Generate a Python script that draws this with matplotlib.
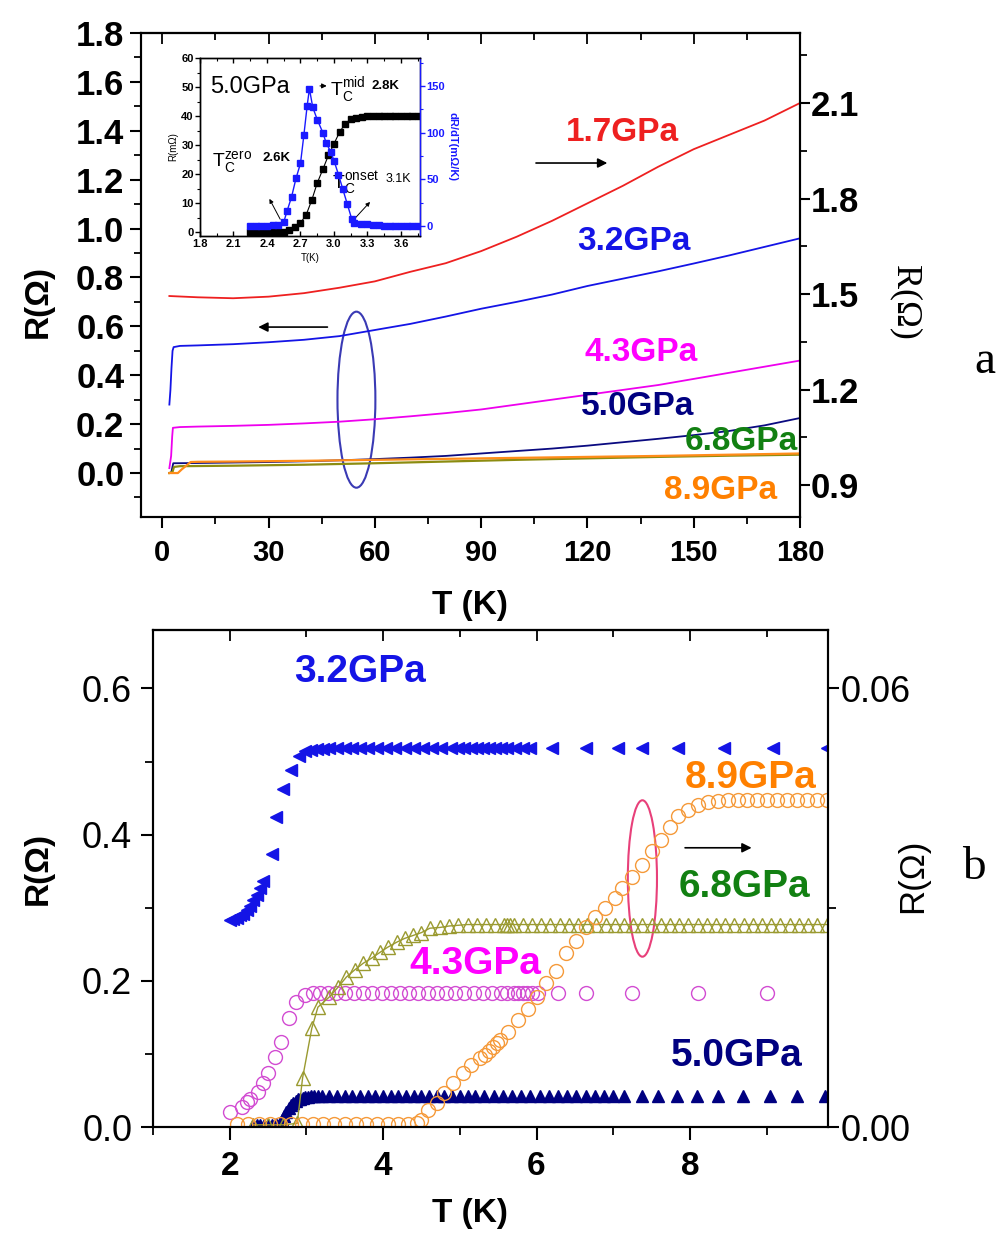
import warnings
import matplotlib
matplotlib.use('Agg')
import matplotlib.pyplot as plt
from matplotlib.patches import Ellipse
from matplotlib.ticker import MultipleLocator

warnings.filterwarnings('ignore')

SANS = ['Liberation Sans', 'DejaVu Sans']
NARROW = ['Liberation Sans Narrow', 'Liberation Sans', 'DejaVu Sans']
SERIF = ['Liberation Serif', 'DejaVu Serif']

# ---------------- panel a : R(T) up to 180 K ----------------
T17 = [2, 10, 20, 30, 40, 50, 60, 70, 80, 90, 100, 110, 120, 130, 140, 150, 160, 170, 180]
R17 = [1.494, 1.490, 1.487, 1.492, 1.503, 1.520, 1.540, 1.570, 1.597, 1.635, 1.680,
       1.730, 1.785, 1.840, 1.900, 1.955, 2.000, 2.045, 2.100]

T32a = [2.0, 2.3, 2.6, 2.9, 3.2, 5, 10, 20, 30, 40, 50, 60, 70, 80, 90, 100, 110, 120,
        130, 140, 150, 160, 170, 180]
R32a = [0.28, 0.34, 0.43, 0.50, 0.515, 0.520, 0.522, 0.527, 0.535, 0.545, 0.560, 0.585,
        0.610, 0.640, 0.672, 0.700, 0.730, 0.765, 0.795, 0.825, 0.857, 0.890, 0.925, 0.960]

T43a = [2.0, 2.5, 2.8, 3.0, 5, 10, 20, 30, 40, 50, 60, 70, 80, 90, 100, 110, 120, 130,
        140, 150, 160, 170, 180]
R43a = [0.02, 0.07, 0.15, 0.185, 0.188, 0.190, 0.193, 0.197, 0.203, 0.210, 0.220, 0.232,
        0.245, 0.260, 0.280, 0.300, 0.320, 0.340, 0.360, 0.385, 0.410, 0.435, 0.460]

T50a = [2.0, 2.5, 2.8, 3.1, 10, 20, 30, 40, 50, 60, 70, 80, 90, 100, 110, 120, 130, 140,
        150, 160, 170, 180]
R50a = [0.0, 0.0, 0.02, 0.04, 0.041, 0.043, 0.045, 0.048, 0.052, 0.057, 0.063, 0.070,
        0.080, 0.090, 0.100, 0.112, 0.126, 0.140, 0.155, 0.172, 0.195, 0.225]

T68a = [2, 2.9, 3.3, 5, 20, 40, 60, 80, 100, 120, 140, 160, 180]
R68a = [0.0, 0.005, 0.025, 0.028, 0.030, 0.034, 0.040, 0.047, 0.054, 0.060, 0.066, 0.071, 0.075]

T89a = [2, 4.4, 5.5, 8, 10, 20, 40, 60, 80, 100, 120, 140, 160, 180]
R89a = [0.0, 0.0, 0.015, 0.045, 0.046, 0.047, 0.050, 0.054, 0.058, 0.062, 0.066, 0.070,
        0.075, 0.080]

# inset: 5.0 GPa transition
Tin = [2.25, 2.3, 2.35, 2.4, 2.45, 2.5, 2.55, 2.6, 2.65, 2.7, 2.75, 2.8, 2.85, 2.9, 2.95,
       3.0, 3.05, 3.1, 3.15, 3.2, 3.25, 3.3, 3.35, 3.4, 3.45, 3.5, 3.55, 3.6, 3.65, 3.7, 3.75]
Rin = [0, 0, 0, 0, 0, 0, 0.3, 0.8, 1.8, 3.3, 6.0, 11.0, 17.0, 21.7, 26.5, 30.5, 34.5, 37.4,
       38.9, 39.5, 39.8, 40, 40, 40, 40, 40, 40, 40, 40, 40, 40]
Tdr = [2.25, 2.3, 2.35, 2.4, 2.45, 2.5, 2.55, 2.58, 2.62, 2.66, 2.7, 2.73, 2.76, 2.78,
       2.81, 2.85, 2.9, 2.93, 2.97, 3.0, 3.04, 3.08, 3.12, 3.16, 3.18, 3.24, 3.3, 3.35, 3.4,
       3.45, 3.5, 3.55, 3.6, 3.65, 3.7, 3.75]
dRdT = [0, 0, 0, 0, 0.5, 1, 4, 16, 31, 51, 67, 97, 129, 147, 127, 114, 100, 89, 79.5, 70,
        55, 39, 23, 7, 3.2, 2.5, 1.5, 1, 0.5, 0.3, 0, 0, 0, 0, 0, 0]

# ---------------- panel b : low temperature ----------------
T32 = [2.0, 2.04, 2.09, 2.13, 2.17, 2.22, 2.26, 2.31, 2.35, 2.39, 2.43, 2.55, 2.61, 2.70,
       2.80, 2.90, 2.98, 3.06, 3.14, 3.22, 3.30, 3.40, 3.50, 3.60, 3.70, 3.80, 3.92, 4.04,
       4.16, 4.28, 4.40, 4.52, 4.64, 4.76, 4.88, 4.98, 5.06, 5.14, 5.22, 5.30, 5.38, 5.46,
       5.54, 5.62, 5.72, 5.82, 5.92, 6.2, 6.65, 7.06, 7.37, 7.85, 8.45, 9.08, 9.78]
R32 = [0.283, 0.284, 0.286, 0.290, 0.292, 0.297, 0.303, 0.310, 0.318, 0.327, 0.337, 0.374,
       0.424, 0.463, 0.488, 0.508, 0.514, 0.516, 0.517, 0.517, 0.518, 0.518, 0.518, 0.518,
       0.518, 0.518, 0.518, 0.518, 0.518, 0.518, 0.518, 0.518, 0.518, 0.518, 0.518, 0.518,
       0.518, 0.518, 0.518, 0.518, 0.518, 0.518, 0.518, 0.518, 0.518, 0.518, 0.518, 0.518,
       0.518, 0.518, 0.518, 0.518, 0.518, 0.518, 0.518]

T43 = [2.0, 2.16, 2.22, 2.26, 2.37, 2.43, 2.50, 2.59, 2.67, 2.77, 2.87, 2.98, 3.08, 3.18,
       3.28, 3.38, 3.50, 3.62, 3.74, 3.86, 3.98, 4.10, 4.22, 4.34, 4.46, 4.58, 4.70, 4.82,
       4.94, 5.06, 5.18, 5.30, 5.42, 5.54, 5.62, 5.70, 5.76, 5.82, 5.88, 5.94, 6.02, 6.28,
       6.65, 7.25, 8.10, 9.00]
R43 = [0.020, 0.027, 0.034, 0.038, 0.048, 0.060, 0.074, 0.096, 0.116, 0.149, 0.171, 0.180,
       0.183, 0.184, 0.184, 0.184, 0.184, 0.184, 0.184, 0.184, 0.184, 0.184, 0.184, 0.184,
       0.184, 0.184, 0.184, 0.184, 0.184, 0.184, 0.184, 0.184, 0.184, 0.184, 0.184, 0.184,
       0.184, 0.184, 0.184, 0.184, 0.184, 0.184, 0.184, 0.184, 0.184, 0.184]

T50 = [2.3, 2.35, 2.4, 2.45, 2.5, 2.55, 2.6, 2.65, 2.68, 2.71, 2.74, 2.77, 2.8, 2.83, 2.86,
       2.89, 2.92, 2.95, 2.98, 3.02, 3.06, 3.1, 3.15, 3.2, 3.3, 3.4, 3.5, 3.6, 3.7, 3.8, 3.9,
       4.0, 4.1, 4.2, 4.3, 4.4, 4.5, 4.6, 4.7, 4.8, 4.9, 5.0, 5.1, 5.2, 5.32, 5.44, 5.56,
       5.68, 5.80, 5.92, 6.04, 6.16, 6.28, 6.40, 6.52, 6.64, 6.76, 6.88, 7.00, 7.14, 7.38,
       7.58, 7.83, 8.09, 8.36, 8.69, 9.04, 9.40, 9.76]
R50 = [0.003, 0.003, 0.003, 0.003, 0.003, 0.003, 0.004, 0.006, 0.010, 0.015, 0.021, 0.026,
       0.030, 0.033, 0.036, 0.038, 0.039, 0.040, 0.041, 0.041, 0.042, 0.042, 0.042, 0.042,
       0.042, 0.042, 0.042, 0.042, 0.042, 0.042, 0.042, 0.042, 0.042, 0.042, 0.042, 0.042,
       0.042, 0.042, 0.042, 0.042, 0.042, 0.042, 0.042, 0.042, 0.042, 0.042, 0.042, 0.042,
       0.042, 0.042, 0.042, 0.042, 0.042, 0.042, 0.042, 0.042, 0.042, 0.042, 0.042, 0.042,
       0.042, 0.042, 0.042, 0.042, 0.042, 0.042, 0.042, 0.042, 0.042]

# 6.8 and 8.9 GPa are read on the right axis
T68 = [2.3, 2.5, 2.7, 2.88, 2.95, 3.07, 3.15, 3.30, 3.41, 3.52, 3.63, 3.74, 3.85, 3.96,
       4.06, 4.18, 4.28, 4.39, 4.50, 4.61, 4.74, 4.86, 4.98, 5.10, 5.22, 5.34, 5.46, 5.58,
       5.62, 5.66, 5.70, 5.82, 5.94, 6.06, 6.18, 6.30, 6.42, 6.54, 6.66, 6.78, 6.90, 7.02,
       7.14, 7.26, 7.38, 7.50, 7.62, 7.74, 7.86, 7.98, 8.10, 8.22, 8.34, 8.46, 8.58, 8.70,
       8.82, 8.94, 9.06, 9.18, 9.30, 9.42, 9.54, 9.66, 9.78]
R68 = [0.0003, 0.0003, 0.0003, 0.0005, 0.0067, 0.0135, 0.0164, 0.0178, 0.0191, 0.0205,
       0.0215, 0.0224, 0.0231, 0.0239, 0.0246, 0.0253, 0.0258, 0.0262, 0.0266, 0.0272,
       0.0273, 0.0275, 0.0276, 0.0277, 0.0277, 0.0277, 0.0277, 0.0277, 0.0277, 0.0277,
       0.0277, 0.0277, 0.0277, 0.0277, 0.0277, 0.0277, 0.0277, 0.0277, 0.0277, 0.0277,
       0.0277, 0.0277, 0.0277, 0.0277, 0.0277, 0.0277, 0.0277, 0.0277, 0.0277, 0.0277,
       0.0277, 0.0277, 0.0277, 0.0277, 0.0277, 0.0277, 0.0277, 0.0277, 0.0277, 0.0277,
       0.0277, 0.0277, 0.0277, 0.0277, 0.0277]

T89 = [2.10, 2.24, 2.38, 2.52, 2.66, 2.80, 2.94, 3.08, 3.22, 3.36, 3.50, 3.64, 3.78, 3.92,
       4.06, 4.20, 4.32, 4.44, 4.50, 4.58, 4.70, 4.80, 4.91, 5.04, 5.15, 5.26, 5.33, 5.38,
       5.43, 5.48, 5.52, 5.63, 5.76, 5.89, 6.00, 6.12, 6.25, 6.38, 6.51, 6.64, 6.76, 6.89,
       7.02, 7.12, 7.25, 7.37, 7.50, 7.62, 7.74, 7.85, 7.97, 8.10, 8.23, 8.36, 8.49, 8.62,
       8.75, 8.88, 9.01, 9.14, 9.27, 9.40, 9.53, 9.66, 9.79]
R89 = [0.0004, 0.0004, 0.0004, 0.0004, 0.0004, 0.0004, 0.0004, 0.0004, 0.0004, 0.0004,
       0.0004, 0.0004, 0.0004, 0.0004, 0.0004, 0.0004, 0.0004, 0.0005, 0.0010, 0.0023,
       0.0033, 0.0046, 0.0060, 0.0074, 0.0085, 0.0094, 0.0098, 0.0104, 0.0110, 0.0115,
       0.0119, 0.0130, 0.0146, 0.0162, 0.0178, 0.0197, 0.0214, 0.0238, 0.0255, 0.0273,
       0.0287, 0.0300, 0.0313, 0.0327, 0.0342, 0.0359, 0.0377, 0.0393, 0.0410, 0.0425,
       0.0434, 0.0441, 0.0444, 0.0446, 0.0447, 0.0447, 0.0447, 0.0447, 0.0447, 0.0447,
       0.0447, 0.0447, 0.0447, 0.0447, 0.0447]

# tick labels
a_yticks = [0.0, 0.2, 0.4, 0.6, 0.8, 1.0, 1.2, 1.4, 1.6, 1.8]
a_ylabels = ['0.0', '0.2', '0.4', '0.6', '0.8', '1.0', '1.2', '1.4', '1.6', '1.8']
a_rticks = [0.9, 1.2, 1.5, 1.8, 2.1]
a_rlabels = ['0.9', '1.2', '1.5', '1.8', '2.1']
a_xticks = [0, 30, 60, 90, 120, 150, 180]
a_xlabels = ['0', '30', '60', '90', '120', '150', '180']
in_xticks = [1.8, 2.1, 2.4, 2.7, 3.0, 3.3, 3.6]
in_xlabels = ['1.8', '2.1', '2.4', '2.7', '3.0', '3.3', '3.6']
in_yticks = [0, 10, 20, 30, 40, 50, 60]
in_rticks = [0, 50, 100, 150]
b_yticks = [0.0, 0.2, 0.4, 0.6]
b_ylabels = ['0.0', '0.2', '0.4', '0.6']
b_rticks = [0.0, 0.06]
b_rlabels = ['0.00', '0.06']
b_xticks = [2, 4, 6, 8]
b_xlabels = ['2', '4', '6', '8']

RED = '#ee2020'
BLUE = '#1414e6'
MAG = '#ee00ee'
NAVY = '#0a0a80'
OLIVE = '#8c8c10'
ORANGE = '#ff8c1a'


def style_spines(ax, lw=1.5):
    for s in ax.spines.values():
        s.set_linewidth(lw)


fig = plt.figure(figsize=(9.98, 12.34), dpi=100)

# ================= panel a =================
ax1 = fig.add_axes([0.1413, 0.5810, 0.6603, 0.3923])
ax1r = ax1.twinx()

ax1.plot(T32a, R32a, color=BLUE, lw=1.3)
ax1.plot(T43a, R43a, color=MAG, lw=1.3)
ax1.plot(T50a, R50a, color=NAVY, lw=1.3)
ax1.plot(T68a, R68a, color=OLIVE, lw=1.6)
ax1.plot(T89a, R89a, color=ORANGE, lw=1.6)
ax1r.plot(T17, R17, color=RED, lw=1.3)

ax1.set_xlim(-6, 180)
ax1.set_ylim(-0.18, 1.8)
ax1r.set_ylim(0.80, 2.32)

ax1.set_yticks(a_yticks, a_ylabels, fontsize=25, fontweight='bold', family=SANS)
ax1.yaxis.set_minor_locator(MultipleLocator(0.1))
ax1.set_xticks(a_xticks, a_xlabels, fontsize=21, fontweight='bold', family=NARROW)
ax1.xaxis.set_minor_locator(MultipleLocator(15))
ax1.tick_params(which='major', direction='out', length=8, width=1.5, pad=4)
ax1.tick_params(which='minor', direction='out', length=5, width=1.3)
ax1.tick_params(axis='x', which='major', pad=8)
ax1r.set_yticks(a_rticks, a_rlabels, fontsize=25, fontweight='bold', family=SANS)
ax1r.yaxis.set_minor_locator(MultipleLocator(0.15))
ax1r.tick_params(which='major', direction='out', length=7, width=1.5, pad=1)
ax1r.tick_params(which='minor', direction='out', length=5, width=1.3)
sec1 = ax1.secondary_xaxis('top')
sec1.set_xticks(a_xticks)
sec1.xaxis.set_minor_locator(MultipleLocator(15))
sec1.tick_params(which='both', direction='in', labeltop=False, width=1.3)
sec1.tick_params(which='major', length=8)
sec1.tick_params(which='minor', length=5)
for a in (ax1, ax1r, sec1):
    style_spines(a)

ax1.add_patch(Ellipse((54.8, 0.30), 10.7, 0.72, fill=False, ec='#3a3ab4', lw=1.5))
ax1.annotate('', xy=(26.3, 0.597), xytext=(47.4, 0.597),
             arrowprops=dict(arrowstyle='-|>', color='black', lw=1.2, mutation_scale=14))
ax1.annotate('', xy=(126.4, 1.268), xytext=(104.7, 1.268),
             arrowprops=dict(arrowstyle='-|>', color='black', lw=1.2, mutation_scale=14))

lab_kw = dict(fontsize=24, fontweight='bold', family=SANS, ha='center', va='center')
ax1r.text(129.8, 1.391, '1.7GPa', color=RED, transform=ax1.transData, **lab_kw)
ax1r.text(133.2, 0.945, '3.2GPa', color=BLUE, transform=ax1.transData, **lab_kw)
ax1r.text(135.2, 0.491, '4.3GPa', color='#ff00ff', transform=ax1.transData, **lab_kw)
ax1r.text(134.3, 0.274, '5.0GPa', color='#000080', transform=ax1.transData, **lab_kw)
ax1r.text(163.4, 0.127, '6.8GPa', color='#128012', transform=ax1.transData, **lab_kw)
ax1r.text(157.7, -0.070, '8.9GPa', color='#ff8000', transform=ax1.transData, **lab_kw)

# ---------------- inset ----------------
axi = fig.add_axes([0.2004, 0.8088, 0.2204, 0.1442])
axir = axi.twinx()
axi.plot(Tin, Rin, color='black', marker='s', ms=4, lw=0.8)
axir.plot(Tdr, dRdT, color='#1a1aff', marker='s', ms=4, lw=1.0)
axi.set_xlim(1.8, 3.77)
axi.set_ylim(-1.2, 60)
axir.set_ylim(-10.8, 180)
axi.set_xticks(in_xticks, in_xlabels, fontsize=8, fontweight='bold', family=NARROW)
axi.xaxis.set_minor_locator(MultipleLocator(0.15))
axi.set_yticks(in_yticks, [str(v) for v in in_yticks], fontsize=8, fontweight='bold',
               family=NARROW)
axi.yaxis.set_minor_locator(MultipleLocator(5))
axi.tick_params(axis='x', which='both', direction='in', top=True, pad=2)
axi.tick_params(axis='y', which='both', direction='out', pad=1)
axi.tick_params(which='major', length=3.5, width=1)
axi.tick_params(which='minor', length=2, width=0.8)
axir.set_yticks(in_rticks, [str(v) for v in in_rticks], fontsize=8, fontweight='bold',
                family=NARROW, color='#1a1aff')
axir.yaxis.set_minor_locator(MultipleLocator(25))
axir.tick_params(which='both', direction='out', colors='#1a1aff', pad=1)
axir.tick_params(which='major', length=3.5, width=1)
axir.tick_params(which='minor', length=2, width=0.8)
style_spines(axi, 1.0)
style_spines(axir, 1.0)
axir.spines['right'].set_color('#1a1aff')
axi.set_xlabel('T(K)', fontsize=7, family=SANS, labelpad=3)
axi.set_ylabel('R(m\u03a9)', fontsize=7, family=SANS, labelpad=2)
axir.set_ylabel('dR/dT(m\u03a9/K)', fontsize=8, fontweight='bold', family=SANS,
                color='#1a1aff', rotation=270, labelpad=9)

axi.text(1.89, 50, '5.0GPa', fontsize=17, family=SANS, ha='left', va='center')
axi.text(2.965, 48.5, r'T$_\mathregular{C}^\mathregular{mid}$', fontsize=14, family=SANS,
         ha='left', va='center')
axi.text(3.34, 50.5, '2.8K', fontsize=9.5, fontweight='bold', family=NARROW, ha='left',
         va='center')
axi.annotate('', xy=(2.96, 50.4), xytext=(2.85, 50.4),
             arrowprops=dict(arrowstyle='-|>', color='black', lw=0.8, mutation_scale=7))
axi.text(1.91, 24, r'T$_\mathregular{C}^\mathregular{zero}$', fontsize=14, family=SANS,
         ha='left', va='center')
axi.text(2.36, 25.5, '2.6K', fontsize=9.5, fontweight='bold', family=NARROW, ha='left',
         va='center')
axi.text(2.98, 17, r'T$_\mathregular{C}^\mathregular{onset}$', fontsize=14, family=SANS,
         ha='left', va='center')
axi.text(3.465, 18.5, '3.1K', fontsize=9, family=NARROW, ha='left', va='center')
axi.annotate('', xy=(2.41, 12.4), xytext=(2.53, 3.7),
             arrowprops=dict(arrowstyle='-|>', color='black', lw=0.7, mutation_scale=6))
axi.annotate('', xy=(3.34, 11.2), xytext=(3.16, 3.7),
             arrowprops=dict(arrowstyle='-|>', color='black', lw=0.7, mutation_scale=6))

# ================= panel b =================
ax3 = fig.add_axes([0.1533, 0.0867, 0.6764, 0.4028])
ax3r = ax3.twinx()

ax3.plot(T32, R32, ls='none', marker='<', ms=9, color=BLUE, mec=BLUE)
ax3.plot(T43, R43, ls='none', marker='o', ms=10, mfc='none', mec='#d24cd2', mew=1.0)
ax3.plot(T50, R50, ls='none', marker='^', ms=9, color='#000080', mec='#000080')
ax3r.plot(T68, R68, color='#9a9a30', lw=1.0, marker='^', ms=10, mfc='none',
          mec='#9a9a30', mew=1.0)
ax3r.plot(T89, R89, ls='none', marker='o', ms=10, mfc='none', mec='#f59a3a', mew=1.0)

ax3.set_xlim(1.0, 9.8)
ax3.set_ylim(0, 0.68)
ax3r.set_ylim(0, 0.068)
ax3.set_yticks(b_yticks, b_ylabels, fontsize=26, family=SANS)
ax3.yaxis.set_minor_locator(MultipleLocator(0.1))
ax3.set_xticks(b_xticks, b_xlabels, fontsize=24, fontweight='bold', family=NARROW)
ax3.xaxis.set_minor_locator(MultipleLocator(1))
ax3.tick_params(which='major', direction='out', length=9, width=1.5, pad=6)
ax3.tick_params(which='minor', direction='out', length=6, width=1.3)
ax3.tick_params(axis='x', which='major', pad=8)
ax3r.set_yticks(b_rticks, b_rlabels, fontsize=26, family=SANS)
ax3r.yaxis.set_minor_locator(MultipleLocator(0.03))
ax3r.tick_params(which='major', direction='out', length=8, width=1.5, pad=1)
ax3r.tick_params(which='minor', direction='out', length=6, width=1.3)
sec3 = ax3.secondary_xaxis('top')
sec3.set_xticks(b_xticks)
sec3.xaxis.set_minor_locator(MultipleLocator(1))
sec3.tick_params(which='both', direction='in', labeltop=False, width=1.3)
sec3.tick_params(which='major', length=8)
sec3.tick_params(which='minor', length=5)
for a in (ax3, ax3r, sec3):
    style_spines(a)

ax3r.add_patch(Ellipse((7.38, 0.0340), 0.38, 0.0214, fill=False, ec='#e8407a', lw=1.5))
ax3r.annotate('', xy=(8.84, 0.0382), xytext=(7.90, 0.0382),
              arrowprops=dict(arrowstyle='-|>', color='black', lw=1.2, mutation_scale=14))

lab_kw2 = dict(fontsize=28, fontweight='bold', family=SANS, ha='center', va='center')
ax3r.text(3.70, 0.622, '3.2GPa', color=BLUE, transform=ax3.transData, **lab_kw2)
ax3r.text(8.79, 0.478, '8.9GPa', color='#ff8000', transform=ax3.transData, **lab_kw2)
ax3r.text(8.71, 0.328, '6.8GPa', color='#128012', transform=ax3.transData, **lab_kw2)
ax3r.text(5.20, 0.223, '4.3GPa', color='#ff00ff', transform=ax3.transData, **lab_kw2)
ax3r.text(8.61, 0.097, '5.0GPa', color='#000080', transform=ax3.transData, **lab_kw2)

# ---------------- axis titles and panel letters ----------------
fig.text(0.471, 0.5097, 'T (K)', fontsize=24, fontweight='bold', family=SANS,
         ha='center', va='center')
fig.text(0.038, 0.756, 'R(\u03a9)', fontsize=24, fontweight='bold', family=SANS,
         rotation=90, ha='center', va='center')
fig.text(0.907, 0.755, 'R(\u03a9)', fontsize=26, family=SERIF, rotation=270,
         ha='center', va='center')
fig.text(0.987, 0.707, 'a', fontsize=34, family=SERIF, ha='center', va='center')

fig.text(0.471, 0.017, 'T (K)', fontsize=24, fontweight='bold', family=SANS,
         ha='center', va='center')
fig.text(0.038, 0.296, 'R(\u03a9)', fontsize=24, fontweight='bold', family=SANS,
         rotation=90, ha='center', va='center')
fig.text(0.914, 0.290, 'R(\u03a9)', fontsize=25, family=SANS, rotation=90,
         ha='center', va='center')
fig.text(0.976, 0.297, 'b', fontsize=34, family=SERIF, ha='center', va='center')

fig.savefig('out.png', dpi=100)
